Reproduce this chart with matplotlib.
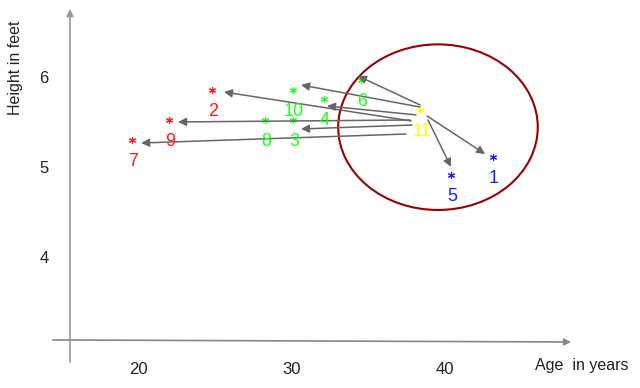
import matplotlib
matplotlib.use("Agg")
import matplotlib.pyplot as plt
from matplotlib.patches import Ellipse

plt.rcParams['font.family'] = ['Liberation Sans', 'DejaVu Sans']

# points: label, age, height, colour
labels = ['1', '5', '11', '6', '4', '10', '3', '8', '2', '9', '7']
ages = [43.1, 40.4, 38.4, 34.5, 32.1, 30.1, 30.1, 28.3, 24.8, 22.0, 19.6]
heights = [5.09, 4.89, 5.61, 5.94, 5.73, 5.83, 5.50, 5.50, 5.83, 5.50, 5.28]
colors = ['#1a1aff', '#1a1aff', '#ffff00', '#1cff1c', '#1cff1c', '#1cff1c',
          '#1cff1c', '#1cff1c', '#ff1a1a', '#ff1a1a', '#ff1a1a']

# arrows from the new point (11) towards its neighbours
arrow_x0 = [38.37, 38.37, 38.11, 37.79, 37.72, 37.85, 37.46, 38.83, 38.89]
arrow_y0 = [5.667, 5.644, 5.556, 5.489, 5.500, 5.444, 5.344, 5.544, 5.500]
arrow_x1 = [34.33, 30.62, 32.31, 25.60, 22.61, 30.62, 20.20, 42.61, 40.39]
arrow_y1 = [5.989, 5.889, 5.656, 5.811, 5.478, 5.400, 5.244, 5.122, 4.978]

# circle around the nearest neighbours
ell_center = (39.54, 5.42)
ell_w, ell_h = 13.0, 1.84

xticks = [20, 30, 40]
yticks = [4, 5, 6]

fig = plt.figure(figsize=(6.4, 3.88), dpi=100)
ax = fig.add_axes([0, 0, 1, 1])
ax.set_xlim(11.01, 52.70)
ax.set_ylim(2.522, 6.833)
ax.axis('off')

# hand-drawn style axes
ax.annotate('', xy=(15.57, 6.733), xytext=(15.57, 2.811),
            arrowprops=dict(arrowstyle='-|>', color='#999999', lw=1.2,
                            mutation_scale=10, shrinkA=0, shrinkB=0))
ax.annotate('', xy=(48.21, 3.033), xytext=(14.46, 3.056),
            arrowprops=dict(arrowstyle='-|>', color='#888888', lw=1.2,
                            mutation_scale=10, shrinkA=0, shrinkB=0))

for t in xticks:
    ax.text(t, 2.733, str(t), ha='center', va='center', fontsize=12, color='#222222')
for t in yticks:
    ax.text(13.88, t - 0.035, str(t), ha='center', va='center', fontsize=12, color='#222222')
ax.text(12.05, 6.08, 'Height in feet', rotation=90, ha='center', va='center',
        fontsize=11.5, color='#222222')
ax.text(48.9, 2.767, 'Age  in years', ha='center', va='center',
        fontsize=11.5, color='#222222')

for x0, y0, x1, y1 in zip(arrow_x0, arrow_y0, arrow_x1, arrow_y1):
    ax.annotate('', xy=(x1, y1), xytext=(x0, y0),
                arrowprops=dict(arrowstyle='-|>', color='#666666', lw=1.1,
                                mutation_scale=12, shrinkA=0, shrinkB=0))

ax.add_patch(Ellipse(ell_center, ell_w, ell_h, fill=False,
                     edgecolor='#990000', lw=1.5))

for lab, x, y, c in zip(labels, ages, heights, colors):
    ax.plot(x, y, marker=(6, 2, 0), ms=5, mew=0.8, color=c, ls='none')
    ax.annotate(lab, (x, y), xytext=(0.8, -15.5), textcoords='offset points',
                ha='center', va='center', fontsize=13, color=c)

fig.savefig('out.png', dpi=100)
